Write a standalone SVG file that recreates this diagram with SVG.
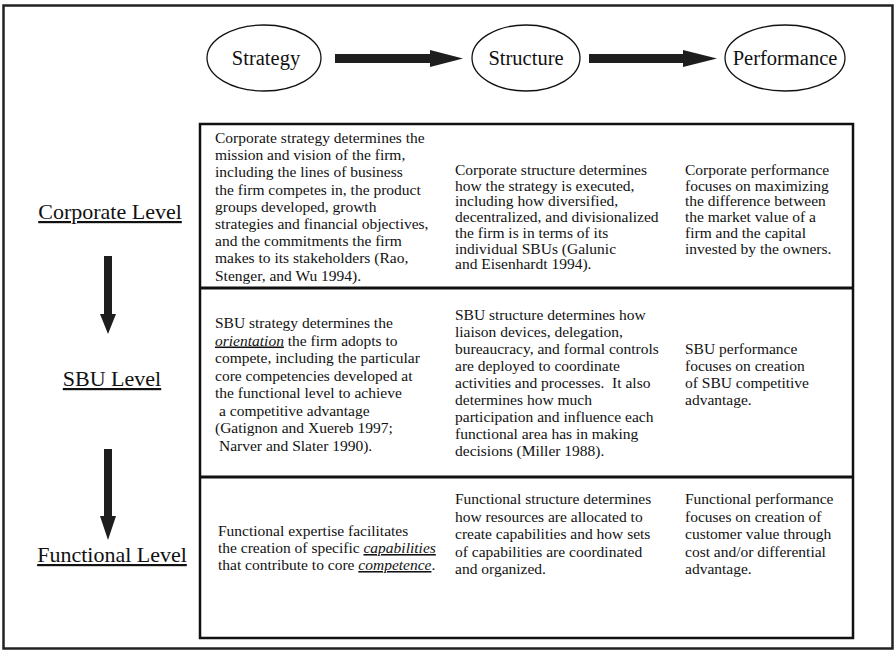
<svg xmlns="http://www.w3.org/2000/svg" width="896" height="655" viewBox="0 0 896 655">
<style>
text{font-family:'Liberation Serif', 'Times New Roman', Times, serif;fill:#111}
.cell{font-size:15.5px}
.head{font-size:20.5px;text-anchor:middle}
.lvl{font-size:22px;text-anchor:middle;text-decoration:underline}
.em{font-style:italic;text-decoration:underline}
.node{fill:#fff;stroke:#111;stroke-width:1.3}
.arr{fill:#1e1e1e}
</style>
<rect x="0" y="0" width="896" height="655" fill="#fff"/>
<rect x="3.5" y="5.5" width="889" height="643" fill="none" stroke="#222" stroke-width="2.5"/>

<g id="connectors">
  <polygon class="arr" points="335,54 430,54 430,50 463,58.5 430,67 430,63 335,63"/>
  <polygon class="arr" points="589,54 683,54 683,50 717,58.5 683,67 683,63 589,63"/>
  <polygon class="arr" points="104,256 112,256 112,314 116,314 108,334 100,314 104,314"/>
  <polygon class="arr" points="104,449 112,449 112,516 116,516 108,540 100,516 104,516"/>
</g>

<g id="strategy">
  <ellipse class="node" cx="264" cy="58" rx="57" ry="33"/>
  <text class="head" x="266" y="65">Strategy</text>
</g>
<g id="structure">
  <ellipse class="node" cx="526" cy="58" rx="54" ry="33"/>
  <text class="head" x="526" y="65">Structure</text>
</g>
<g id="performance">
  <ellipse class="node" cx="785" cy="58" rx="60" ry="33"/>
  <text class="head" x="785" y="65">Performance</text>
</g>

<g id="corporate-level"><text class="lvl" x="110" y="219">Corporate Level</text></g>
<g id="sbu-level"><text class="lvl" x="112" y="386">SBU Level</text></g>
<g id="functional-level"><text class="lvl" x="112" y="562">Functional Level</text></g>

<g id="table">
  <rect x="200" y="124" width="653" height="514" fill="none" stroke="#111" stroke-width="2.5"/>
  <line x1="200" y1="288" x2="853" y2="288" stroke="#111" stroke-width="3"/>
  <line x1="200" y1="477" x2="853" y2="477" stroke="#111" stroke-width="3"/>
</g>

<g id="corporate-strategy">
  <text class="cell" x="215" y="143">Corporate strategy determines the</text>
  <text class="cell" x="215" y="160.2">mission and vision of the firm,</text>
  <text class="cell" x="215" y="177.4">including the lines of business</text>
  <text class="cell" x="215" y="194.6">the firm competes in, the product</text>
  <text class="cell" x="215" y="211.8">groups developed, growth</text>
  <text class="cell" x="215" y="229">strategies and financial objectives,</text>
  <text class="cell" x="215" y="246.2">and the commitments the firm</text>
  <text class="cell" x="215" y="263.4">makes to its stakeholders (Rao,</text>
  <text class="cell" x="215" y="280.6">Stenger, and Wu 1994).</text>
</g>
<g id="corporate-structure">
  <text class="cell" x="455" y="175">Corporate structure determines</text>
  <text class="cell" x="455" y="190.7">how the strategy is executed,</text>
  <text class="cell" x="455" y="206.4">including how diversified,</text>
  <text class="cell" x="455" y="222.1">decentralized, and divisionalized</text>
  <text class="cell" x="455" y="237.8">the firm is in terms of its</text>
  <text class="cell" x="455" y="253.5">individual SBUs (Galunic</text>
  <text class="cell" x="455" y="269.2">and Eisenhardt 1994).</text>
</g>
<g id="corporate-performance">
  <text class="cell" x="685" y="175">Corporate performance</text>
  <text class="cell" x="685" y="190.7">focuses on maximizing</text>
  <text class="cell" x="685" y="206.4">the difference between</text>
  <text class="cell" x="685" y="222.1">the market value of a</text>
  <text class="cell" x="685" y="237.8">firm and the capital</text>
  <text class="cell" x="685" y="253.5">invested by the owners.</text>
</g>

<g id="sbu-strategy">
  <text class="cell" x="215" y="328">SBU strategy determines the</text>
  <text class="cell" x="215" y="345.5"><tspan class="em">orientation</tspan> the firm adopts to</text>
  <text class="cell" x="215" y="363">compete, including the particular</text>
  <text class="cell" x="215" y="380.5">core competencies developed at</text>
  <text class="cell" x="215" y="398">the functional level to achieve</text>
  <text class="cell" x="219" y="415.5">a competitive advantage</text>
  <text class="cell" x="215" y="433">(Gatignon and Xuereb 1997;</text>
  <text class="cell" x="219" y="450.5">Narver and Slater 1990).</text>
</g>
<g id="sbu-structure">
  <text class="cell" x="455" y="320">SBU structure determines how</text>
  <text class="cell" x="455" y="337">liaison devices, delegation,</text>
  <text class="cell" x="455" y="354">bureaucracy, and formal controls</text>
  <text class="cell" x="455" y="371">are deployed to coordinate</text>
  <text class="cell" x="455" y="388" xml:space="preserve">activities and processes.  It also</text>
  <text class="cell" x="455" y="405">determines how much</text>
  <text class="cell" x="455" y="422">participation and influence each</text>
  <text class="cell" x="455" y="439">functional area has in making</text>
  <text class="cell" x="455" y="456">decisions (Miller 1988).</text>
</g>
<g id="sbu-performance">
  <text class="cell" x="685" y="354">SBU performance</text>
  <text class="cell" x="685" y="371">focuses on creation</text>
  <text class="cell" x="685" y="388">of SBU competitive</text>
  <text class="cell" x="685" y="405">advantage.</text>
</g>

<g id="functional-strategy">
  <text class="cell" x="218" y="536">Functional expertise facilitates</text>
  <text class="cell" x="218" y="553">the creation of specific <tspan class="em">capabilities</tspan></text>
  <text class="cell" x="218" y="570">that contribute to core <tspan class="em">competence</tspan>.</text>
</g>
<g id="functional-structure">
  <text class="cell" x="455" y="504">Functional structure determines</text>
  <text class="cell" x="455" y="521.5">how resources are allocated to</text>
  <text class="cell" x="455" y="539">create capabilities and how sets</text>
  <text class="cell" x="455" y="556.5">of capabilities are coordinated</text>
  <text class="cell" x="455" y="574">and organized.</text>
</g>
<g id="functional-performance">
  <text class="cell" x="685" y="504">Functional performance</text>
  <text class="cell" x="685" y="521.5">focuses on creation of</text>
  <text class="cell" x="685" y="539">customer value through</text>
  <text class="cell" x="685" y="556.5">cost and/or differential</text>
  <text class="cell" x="685" y="574">advantage.</text>
</g>
</svg>
